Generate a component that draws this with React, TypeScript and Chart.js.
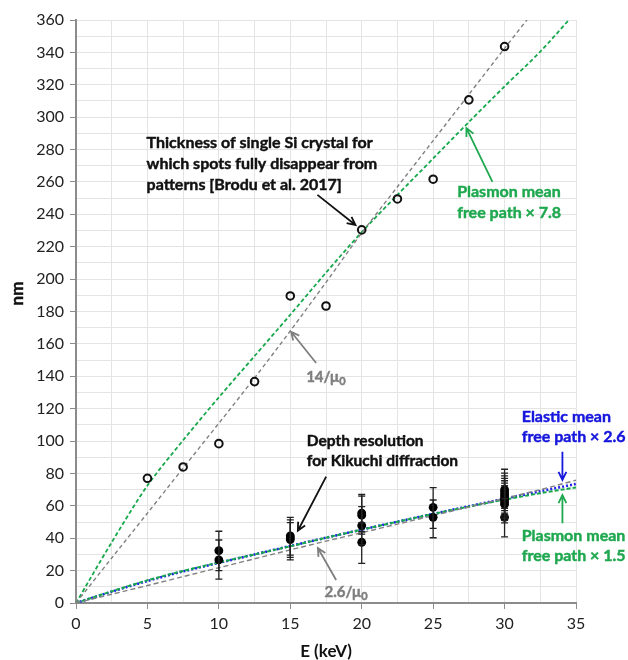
import React, { useEffect, useRef } from "react";
import { Chart, registerables } from "chart.js";
Chart.register(...registerables);

// Energy grid (keV) for the model curves
const energyGrid = [0, 2.5, 5, 7.5, 10, 12.5, 15, 17.5, 20, 22.5, 25, 27.5, 30, 32.5, 35];
// 14/μ0 (nm)
const mu14 = [0, 27.8, 55.5, 83.3, 111, 139, 168, 198, 228.5, 257, 285.5, 314, 342.5, 370.5, 398.5];
// Plasmon mean free path × 7.8 (nm)
const plasmon78 = [0, 37.5, 72.5, 100.5, 127, 152.5, 178, 204, 229, 252, 274.5, 297, 319, 340.5, 365];
// 2.6/μ0 (nm)
const mu26 = [0, 5.4, 10.8, 16.3, 21.8, 27.3, 32.8, 38.2, 43.4, 48.7, 54, 59.3, 64.6, 70, 75.8];
// Elastic mean free path × 2.6 (nm)
const elastic26 = [0, 7, 13.6, 19.5, 24.8, 30, 35.2, 40.3, 45.3, 50.2, 55, 59.7, 64.4, 69, 73.5];
// Plasmon mean free path × 1.5 (nm)
const plasmon15 = [0, 7.2, 14, 19.8, 25, 30, 35, 40.3, 45.3, 50.2, 55, 59.5, 63.8, 67.8, 71.4];

// Brodu et al. 2017 – spot disappearance thickness
const broduE = [5, 7.5, 10, 12.5, 15, 17.5, 20, 22.5, 25, 27.5, 30];
const broduNm = [77, 84, 98.4, 136.7, 189.6, 183.4, 230.4, 249.5, 261.7, 310.7, 343.6];

// Depth resolution for Kikuchi diffraction (with error bars)
const kikuchiE = [10, 10, 15, 15, 15, 20, 20, 20, 20, 25, 25, 30, 30, 30, 30, 30, 30, 30, 30];
const kikuchiNm = [32.3, 26.6, 41.5, 40.3, 39.2, 55.5, 54.2, 47.8, 37.5, 59.1, 52.9, 70, 68.5, 67, 65.5, 64, 62.5, 61, 52.9];
const kikuchiHigh = [44.3, 38.9, 52.9, 51.3, 49.6, 67, 66, 59.5, 49.5, 71.2, 63.6, 82.6, 80.2, 78.5, 77, 75.5, 74, 72.5, 64.5];
const kikuchiLow = [20, 14.8, 29.6, 28.2, 26.6, 44, 42.5, 36, 24.5, 46.1, 40.3, 58.5, 57, 55.5, 54, 52.5, 51, 49.5, 40.8];

const xTickStep = 2.5;
const yTickStep = 10;

const FONT = "Lato, 'Open Sans', sans-serif";
const GREEN = "#1fa84f";
const BLUE = "#1616dc";
const GRAY = "#7f7f7f";

type Ann = {
  lines: string[];
  x: number;
  y: number;
  color: string;
  size: number;
  lh: number;
};

const texts: Ann[] = [
  { lines: ["Thickness of single Si crystal for", "which spots fully disappear from", "patterns [Brodu et al. 2017]"], x: 4.94, y: 284, color: "#111", size: 16, lh: 21 },
  { lines: ["Plasmon mean", "free path \u00d7 7.8"], x: 26.68, y: 253.8, color: GREEN, size: 16, lh: 20.5 },
  { lines: ["Depth resolution", "for Kikuchi diffraction"], x: 16.16, y: 100, color: "#111", size: 15.5, lh: 20 },
  { lines: ["Elastic mean", "free path \u00d7 2.6"], x: 31.2, y: 115, color: BLUE, size: 16, lh: 20.5 },
  { lines: ["Plasmon mean", "free path \u00d7 1.5"], x: 31.2, y: 41.6, color: GREEN, size: 16, lh: 20.5 },
];

const muLabels = [
  { pre: "14/\u03bc", sub: "0", x: 16.11, y: 139.7 },
  { pre: "2.6/\u03bc", sub: "0", x: 17.4, y: 7 },
];

const arrows = [
  { from: [16.9, 252], to: [19.56, 233.4], color: "#111" },
  { from: [29.15, 260], to: [27.33, 293.3], color: GREEN },
  { from: [16.81, 148.2], to: [15.06, 167.5], color: GRAY },
  { from: [17.51, 78], to: [15.53, 44.6], color: "#111" },
  { from: [18.21, 14.2], to: [16.93, 34], color: GRAY },
  { from: [34.05, 93.4], to: [34.05, 76], color: BLUE },
  { from: [34.05, 49.2], to: [34.05, 66.7], color: GREEN },
];

const pts = (xs: number[], ys: number[]) => xs.map((x, i) => ({ x, y: ys[i] }));

const boldText = (ctx: any, s: string, x: number, y: number, color: string) => {
  ctx.fillStyle = color;
  ctx.strokeStyle = color;
  ctx.lineWidth = 0.45;
  ctx.fillText(s, x, y);
  ctx.strokeText(s, x, y);
};

const errorBarPlugin = {
  id: "errorBars",
  afterDatasetsDraw(chart: any) {
    const { ctx, scales } = chart;
    const xs = scales.x, ys = scales.y;
    ctx.save();
    ctx.strokeStyle = "#222";
    ctx.lineWidth = 1.3;
    kikuchiE.forEach((e, i) => {
      const px = xs.getPixelForValue(e);
      const t = ys.getPixelForValue(kikuchiHigh[i]);
      const b = ys.getPixelForValue(kikuchiLow[i]);
      ctx.beginPath();
      ctx.moveTo(px, t);
      ctx.lineTo(px, b);
      ctx.moveTo(px - 3.5, t);
      ctx.lineTo(px + 3.5, t);
      ctx.moveTo(px - 3.5, b);
      ctx.lineTo(px + 3.5, b);
      ctx.stroke();
    });
    ctx.restore();
  },
};

const annotationPlugin = {
  id: "annotations",
  afterDraw(chart: any) {
    const { ctx, scales } = chart;
    const xs = scales.x, ys = scales.y;
    ctx.save();
    ctx.textBaseline = "middle";
    ctx.textAlign = "left";
    texts.forEach((a) => {
      ctx.font = `bold ${a.size}px ${FONT}`;
      const x = xs.getPixelForValue(a.x);
      const y = ys.getPixelForValue(a.y);
      a.lines.forEach((l, i) => boldText(ctx, l, x, y + i * a.lh, a.color));
    });
    muLabels.forEach((m) => {
      const x = xs.getPixelForValue(m.x);
      const y = ys.getPixelForValue(m.y);
      ctx.font = `bold 15px ${FONT}`;
      boldText(ctx, m.pre, x, y, GRAY);
      const w = ctx.measureText(m.pre).width;
      ctx.font = `bold 11px ${FONT}`;
      boldText(ctx, m.sub, x + w, y + 5, GRAY);
    });
    arrows.forEach((a) => {
      const x1 = xs.getPixelForValue(a.from[0]);
      const y1 = ys.getPixelForValue(a.from[1]);
      const x2 = xs.getPixelForValue(a.to[0]);
      const y2 = ys.getPixelForValue(a.to[1]);
      const ang = Math.atan2(y2 - y1, x2 - x1);
      const hl = 9;
      ctx.strokeStyle = a.color;
      ctx.lineWidth = 1.8;
      ctx.beginPath();
      ctx.moveTo(x1, y1);
      ctx.lineTo(x2, y2);
      ctx.moveTo(x2 - hl * Math.cos(ang - 0.45), y2 - hl * Math.sin(ang - 0.45));
      ctx.lineTo(x2, y2);
      ctx.lineTo(x2 - hl * Math.cos(ang + 0.45), y2 - hl * Math.sin(ang + 0.45));
      ctx.stroke();
    });
    // y-axis title
    ctx.save();
    ctx.translate(18, 293.5);
    ctx.rotate(-Math.PI / 2);
    ctx.textAlign = "center";
    ctx.font = `bold 17px ${FONT}`;
    boldText(ctx, "nm", 0, 0, "#111");
    ctx.restore();
    ctx.restore();
  },
};

export default function App() {
  const ref = useRef<HTMLCanvasElement | null>(null);
  useEffect(() => {
    if (!ref.current) return;
    const lineDs = (label: string, ys: number[], color: string, dash: number[], width: number) => ({
      type: "line" as const,
      label,
      data: pts(energyGrid, ys),
      borderColor: color,
      borderDash: dash,
      borderWidth: width,
      pointRadius: 0,
      fill: false,
      tension: 0.3,
    });
    const chart = new Chart(ref.current, {
      type: "scatter",
      data: {
        datasets: [
          {
            type: "scatter",
            label: "Brodu et al. 2017",
            data: pts(broduE, broduNm),
            pointRadius: 3.8,
            pointBorderWidth: 2,
            borderColor: "#111",
            backgroundColor: "rgba(255,255,255,0)",
          },
          {
            type: "scatter",
            label: "Depth resolution for Kikuchi diffraction",
            data: pts(kikuchiE, kikuchiNm),
            pointRadius: 4.4,
            pointBorderWidth: 0,
            borderColor: "#000",
            backgroundColor: "#000",
          },
          lineDs("14/μ0", mu14, "#808080", [4, 3], 1.4),
          lineDs("Plasmon mean free path × 7.8", plasmon78, "#16a84a", [4, 2.5], 1.8),
          lineDs("2.6/μ0", mu26, "#808080", [5, 3], 1.4),
          lineDs("Plasmon mean free path × 1.5", plasmon15, "#16a84a", [4, 2], 2),
          lineDs("Elastic mean free path × 2.6", elastic26, "#2424e6", [2, 2], 2.6),
        ] as any,
      },
      options: {
        responsive: false,
        animation: false,
        devicePixelRatio: 1,
        layout: { padding: { top: 20, right: 52, left: 0, bottom: 0 } },
        plugins: { legend: { display: false }, tooltip: { enabled: false } },
        scales: {
          x: {
            type: "linear",
            min: 0,
            max: 35,
            afterFit: (s: any) => {
              s.height = 57;
            },
            ticks: {
              stepSize: xTickStep,
              autoSkip: false,
              maxRotation: 0,
              padding: 5,
              color: "#222",
              font: { family: FONT, size: 16 },
              callback: (v: any) => (Number(v) % 5 === 0 ? String(v) : ""),
            },
            grid: {
              color: "#e4e4e4",
              lineWidth: 1,
              tickLength: 6,
              tickColor: (c: any) => (c.tick && c.tick.value % 5 === 0 ? "#8c8c8c" : "rgba(0,0,0,0)"),
            },
            border: { color: "#8c8c8c", width: 2 },
            title: {
              display: true,
              text: "E (keV)",
              color: "#111",
              font: { family: FONT, size: 17, weight: "bold", lineHeight: 1 },
              padding: { top: 0, bottom: 0 },
            },
          },
          y: {
            type: "linear",
            min: 0,
            max: 360,
            afterFit: (s: any) => {
              s.width = 76;
            },
            ticks: {
              stepSize: yTickStep,
              autoSkip: false,
              padding: 6,
              color: "#222",
              font: { family: FONT, size: 16 },
              callback: (v: any) => (Number(v) % 20 === 0 ? String(v) : ""),
            },
            grid: {
              color: "#e4e4e4",
              lineWidth: 1,
              tickLength: 6,
              tickColor: (c: any) => (c.tick && c.tick.value % 20 === 0 ? "#8c8c8c" : "rgba(0,0,0,0)"),
            },
            border: { color: "#8c8c8c", width: 2 },
          },
        },
      } as any,
      plugins: [errorBarPlugin, annotationPlugin],
    });
    return () => chart.destroy();
  }, []);
  return (
    <div style={{ position: "absolute", left: 0, top: 0, width: 628, height: 660, background: "#fff" }}>
      <canvas ref={ref} width={628} height={660} />
    </div>
  );
}
